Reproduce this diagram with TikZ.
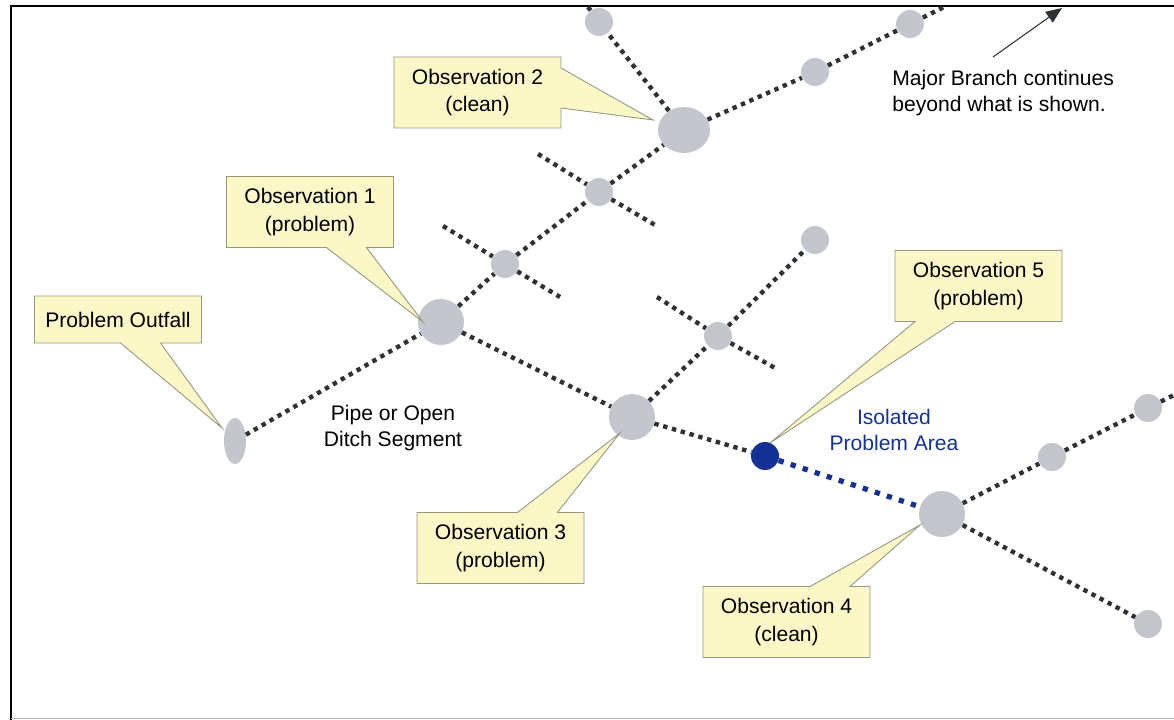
\documentclass[tikz,border=0pt]{standalone}
\usepackage{fontspec}
\setmainfont{Liberation Sans}
\usepackage{xcolor}
\usetikzlibrary{shapes.geometric, shapes.callouts, arrows.meta}

\definecolor{nodegray}{RGB}{196,198,206}
\definecolor{pipegray}{RGB}{45,50,55}
\definecolor{probblue}{RGB}{20,50,150}
\definecolor{noteyellow}{RGB}{251,247,198}
\definecolor{noteedge}{RGB}{150,150,130}

\begin{document}
\begin{tikzpicture}[x=0.02cm, y=-0.02cm,
    bignode/.style={circle, fill=nodegray, minimum size=0.92cm, inner sep=0pt},
    smallnode/.style={circle, fill=nodegray, minimum size=0.56cm, inner sep=0pt},
    pipe/.style={draw=pipegray, line width=2.5pt, dash pattern=on 2.5pt off 2.7pt},
    bluepipe/.style={draw=probblue, line width=3pt, dash pattern=on 3pt off 4.2pt},
    callout/.style={rectangle callout, draw=noteedge, fill=noteyellow, line width=0.5pt, minimum width=3.34cm, minimum height=1.42cm, inner sep=0pt, align=center, callout pointer width=0.8cm, font=\fontsize{12}{15.5}\selectfont},
    note/.style={align=center, inner sep=0pt, font=\fontsize{12}{15}\selectfont},
    arrow/.style={-{Triangle[length=0.32cm, width=0.26cm]}, draw=pipegray, line width=0.6pt}]

    \useasboundingbox (0,0) rectangle (1174,720);
    % frame
    \draw[line width=1.5pt] (11,720) -- (11,6) -- (1174,6);
    \draw[black!30, line width=1pt] (11,718.5) -- (1174,718.5);

    % manholes / junctions
    \node (outfall) [ellipse, fill=nodegray, minimum width=0.44cm, minimum height=0.92cm, inner sep=0pt] at (235,441) {};
    \node (obsa) [bignode] at (441,322) {};
    \node (juna) [smallnode] at (505,264) {};
    \node (junb) [smallnode] at (599,192) {};
    \node (obsb) [ellipse, fill=nodegray, minimum width=1.04cm, minimum height=0.92cm, inner sep=0pt] at (684,130) {};
    \node (juntop) [smallnode] at (599,22) {};
    \node (majora) [smallnode] at (815,72) {};
    \node (majorb) [smallnode] at (910,24) {};
    \node (obsc) [bignode] at (632,417) {};
    \node (junc) [smallnode] at (718,336) {};
    \node (jund) [smallnode] at (815,240) {};
    \node (isolated) [circle, fill=probblue, minimum size=0.56cm, inner sep=0pt] at (765,456) {};
    \node (obsd) [bignode] at (942,514) {};
    \node (june) [smallnode] at (1052,457) {};
    \node (junf) [smallnode] at (1148,408) {};
    \node (jung) [smallnode] at (1148,624) {};

    % free ends of pipes
    \coordinate (topend) at (588,7);
    \coordinate (majorend) at (944,7);
    \coordinate (rightend) at (1174,395);
    \coordinate (crossa1) at (443,226);
    \coordinate (crossa2) at (560,297);
    \coordinate (crossb1) at (538,154);
    \coordinate (crossb2) at (655,225);
    \coordinate (crossc1) at (657,297);
    \coordinate (crossc2) at (775,368);

    % pipes
    \draw [pipe] (outfall) -- (obsa);
    \draw [pipe] (obsa) -- (juna);
    \draw [pipe] (juna) -- (junb);
    \draw [pipe] (junb) -- (obsb);
    \draw [pipe] (obsb) -- (juntop);
    \draw [pipe] (juntop) -- (topend);
    \draw [pipe] (obsb) -- (majora);
    \draw [pipe] (majora) -- (majorb);
    \draw [pipe] (majorb) -- (majorend);
    \draw [pipe] (crossa1) -- (juna);
    \draw [pipe] (juna) -- (crossa2);
    \draw [pipe] (crossb1) -- (junb);
    \draw [pipe] (junb) -- (crossb2);
    \draw [pipe] (obsa) -- (obsc);
    \draw [pipe] (obsc) -- (junc);
    \draw [pipe] (junc) -- (jund);
    \draw [pipe] (crossc1) -- (junc);
    \draw [pipe] (junc) -- (crossc2);
    \draw [pipe] (obsc) -- (isolated);
    \draw [bluepipe] (isolated) -- (obsd);
    \draw [pipe] (obsd) -- (june);
    \draw [pipe] (june) -- (junf);
    \draw [pipe] (junf) -- (rightend);
    \draw [pipe] (obsd) -- (jung);

    % callouts
    \node (calloutfall) [callout, minimum height=0.94cm, callout absolute pointer={(222,428)}] at (118,319.5) {Problem Outfall};
    \node (callobsa) [callout, callout absolute pointer={(423,322)}] at (310,212) {Observation 1\\(problem)};
    \node (callobsb) [callout, callout absolute pointer={(653,120)}] at (477.5,92.5) {Observation 2\\(clean)};
    \node (callobsc) [callout, callout absolute pointer={(620,433)}] at (500.5,548) {Observation 3\\(problem)};
    \node (callobsd) [callout, callout absolute pointer={(920,525)}] at (786.5,622) {Observation 4\\(clean)};
    \node (callobse) [callout, callout absolute pointer={(770,443)}] at (978.5,286) {Observation 5\\(problem)};

    % labels
    \node (pipelabel) [note] at (393,428) {Pipe or Open\\Ditch Segment};
    \node (arealabel) [note, text=probblue] at (894,430) {Isolated\\Problem Area};
    \node (majorlabel) [note, align=left, anchor=west] at (892,93) {Major Branch continues\\beyond what is shown.};

    \coordinate (branchtail) at (993,57);
    \coordinate (branchtip) at (1062,8);
    \draw [arrow] (branchtail) -- (branchtip);

\end{tikzpicture}
\end{document}
